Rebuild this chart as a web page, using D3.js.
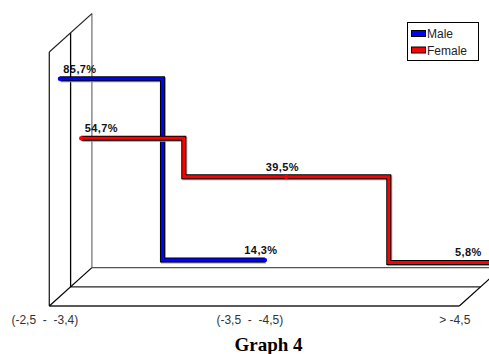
<!DOCTYPE html>
<html>
<head>
<meta charset="utf-8">
<script src="https://cdn.jsdelivr.net/npm/d3@7"></script>
<style>
  body { margin: 0; background: #fff; }
  svg { display: block; }
</style>
</head>
<body>
<div id="chart"></div>
<script>
// data
var categories = ["(-2,5  -  -3,4)", "(-3,5  -  -4,5)", "> -4,5"];
var seriesNames = ["Male", "Female"];
var maleValues = [85.7, 14.3];
var femaleValues = [54.7, 39.5, 5.8];
var colors = ["#0000ff", "#ff0000"];

// label nudges (px) so the value labels sit like in the original
var labelNudge = [[20, -4], [20, -4, -23]];

var w = 489, h = 354;

var svg = d3.select("#chart").append("svg")
    .attr("width", w)
    .attr("height", h);

// front plane scales
var x = d3.scalePoint().domain(categories).range([49.3, 459.3]);
var y = d3.scaleLinear().domain([0, 100]).range([306, 52]);
// depth: each series sits in its own slot, 2 slots total
var depth = d3.scaleBand().domain(seriesNames).range([0, 2]);
var ddx = 21.3, ddy = -19.2;

function px(cat, d) { return x(cat) + d * ddx; }
function py(v, d) { return y(v) + d * ddy; }

// walls & floor
var axisG = svg.append("g").attr("fill", "none");
var wallCols = ["#222", "#000", "#777"];
[0, 1, 2].forEach(function(d) {
  axisG.append("line")
      .attr("x1", px(categories[0], d)).attr("x2", px(categories[0], d))
      .attr("y1", py(0, d)).attr("y2", py(100, d))
      .attr("stroke", wallCols[d]).attr("stroke-width", 1.3);
  axisG.append("line")
      .attr("x1", px(categories[0], d)).attr("x2", px(categories[2], d))
      .attr("y1", py(0, d)).attr("y2", py(0, d))
      .attr("stroke", d == 2 ? "#555" : "#222").attr("stroke-width", 1.3);
});
// diagonals
axisG.append("line")
    .attr("x1", px(categories[0], 0)).attr("y1", py(100, 0))
    .attr("x2", px(categories[0], 2)).attr("y2", py(100, 2))
    .attr("stroke", "#222").attr("stroke-width", 1.2);
axisG.append("line")
    .attr("x1", px(categories[0], 0)).attr("y1", py(0, 0))
    .attr("x2", px(categories[0], 2)).attr("y2", py(0, 2))
    .attr("stroke", "#000").attr("stroke-width", 1.2);
axisG.append("line")
    .attr("x1", px(categories[2], 0)).attr("y1", py(0, 0))
    .attr("x2", px(categories[2], 2)).attr("y2", py(0, 2))
    .attr("stroke", "#000").attr("stroke-width", 1.2);

// series
var allValues = [maleValues, femaleValues];
var line = d3.line().curve(d3.curveStep);

allValues.forEach(function(vals, i) {
  var d = depth(seriesNames[i]) + depth.bandwidth() / 2;
  var pts = vals.map(function(v, j) { return [px(categories[j], d), py(v, d)]; });
  var g = svg.append("g");
  g.append("path").attr("d", line(pts.map(function(p) { return [p[0] + 1, p[1] + 1]; })))
      .attr("fill", "none").attr("stroke", "#999").attr("stroke-width", 5);
  g.append("path").attr("d", line(pts))
      .attr("fill", "none").attr("stroke", "#000").attr("stroke-width", 5);
  g.append("path").attr("d", line(pts))
      .attr("fill", "none").attr("stroke", colors[i]).attr("stroke-width", 3);
  g.selectAll("circle").data(pts).enter().append("circle")
      .attr("cx", function(p) { return p[0]; })
      .attr("cy", function(p) { return p[1]; })
      .attr("r", 2.2)
      .attr("fill", colors[i]);
  g.selectAll("text").data(vals).enter().append("text")
      .attr("x", function(v, j) { return pts[j][0] + labelNudge[i][j]; })
      .attr("y", function(v, j) { return pts[j][1] - 6; })
      .attr("text-anchor", "middle")
      .style("font-family", "Liberation Sans, Arial, sans-serif")
      .style("font-size", "11px")
      .style("font-weight", "bold")
      .style("letter-spacing", "0.4px")
      .attr("fill", "#111")
      .text(function(v) { return d3.format(".1f")(v).replace(".", ",") + "%"; });
});

// category labels
svg.selectAll("text.cat").data(categories).enter().append("text")
    .attr("class", "cat")
    .attr("x", function(c) { return x(c) - 4.5; })
    .attr("y", 324)
    .attr("text-anchor", "middle")
    .style("white-space", "pre")
    .style("font-family", "Liberation Sans, Arial, sans-serif")
    .style("font-size", "12px")
    .attr("fill", "#333")
    .text(function(c) { return c; });

// legend
var leg = svg.append("g");
leg.append("rect").attr("x", 407.5).attr("y", 22.5).attr("width", 71).attr("height", 38)
    .attr("fill", "#fff").attr("stroke", "#000").attr("stroke-width", 1);
seriesNames.forEach(function(s, i) {
  leg.append("rect").attr("x", 411.5).attr("y", 30.5 + i * 16.5).attr("width", 14).attr("height", 6)
      .attr("fill", colors[i]).attr("stroke", "#000").attr("stroke-width", 1);
  leg.append("text").attr("x", 427).attr("y", 37.5 + i * 17)
      .style("font-family", "Liberation Sans, Arial, sans-serif")
      .style("font-size", "12px")
      .attr("fill", "#222")
      .text(s);
});

// title
svg.append("text")
    .attr("x", 268.5).attr("y", 350.5)
    .attr("text-anchor", "middle")
    .style("font-family", "Liberation Serif, Times New Roman, serif")
    .style("font-size", "19px")
    .style("font-weight", "bold")
    .text("Graph 4");
</script>
</body>
</html>
